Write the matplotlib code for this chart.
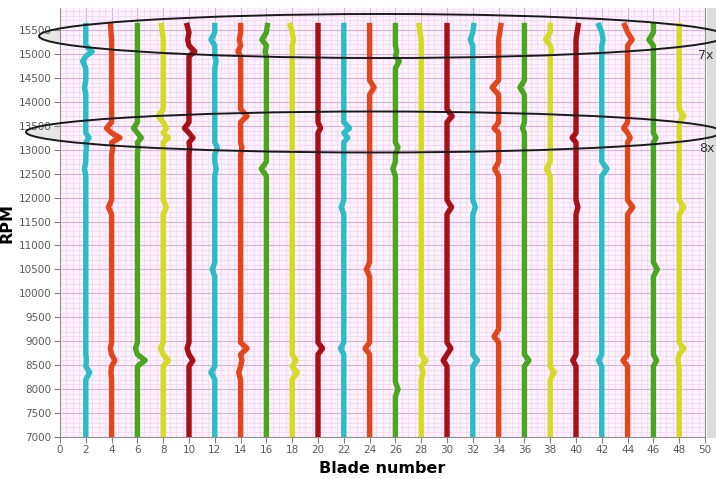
import matplotlib
matplotlib.use("Agg")
import matplotlib.pyplot as plt
from matplotlib.patches import Ellipse, Rectangle
import numpy as np

# ---------------- data ----------------
blades = [2, 4, 6, 8, 10, 12, 14, 16, 18, 20, 22, 24,
          26, 28, 30, 32, 34, 36, 38, 40, 42, 44, 46, 48]
color_cycle = ["#2bbcc6", "#e4461c", "#4aa61e", "#d6da22", "#a80f16"]

rpm_grid = [7000, 8000, 8350, 8600, 8850, 9100, 10500, 11800, 12600,
            13050, 13250, 13450, 13700, 14300, 14850, 15050, 15300, 15650]

dev_b02 = [0, 0, 0.3, 0.05, 0, 0, 0, 0, -0.1, 0.05, 0.25, 0, 0, -0.1, -0.25, 0.5, 0, 0]
dev_b04 = [0, 0, -0.05, 0.25, -0.1, 0, 0, -0.25, 0, 0.1, 0.65, -0.4, 0, 0, 0, 0, 0, -0.1]
dev_b06 = [0, 0, 0, 0.6, -0.15, 0, 0, 0, 0, 0.05, 0.3, -0.3, 0, 0, 0, 0, 0, 0]
dev_b08 = [0, 0, 0, 0.4, -0.2, 0, 0, 0.25, 0, 0, 0.4, 0.25, -0.4, 0, 0, 0, 0, -0.15]
dev_b10 = [0, 0, 0, 0.3, -0.15, 0, 0, 0, 0, 0.05, 0.3, -0.35, 0, 0, 0, 0.45, -0.1, -0.2]
dev_b12 = [0, 0, -0.3, 0, 0, 0, -0.2, 0, 0.1, 0.2, 0, 0, 0, 0, 0.1, 0, -0.3, 0]
dev_b14 = [0, 0, -0.15, 0.1, 0.5, 0, 0, 0, 0, 0.1, 0, 0, 0.5, 0, 0, -0.2, -0.1, 0]
dev_b16 = [0, 0, 0, 0, 0, 0, 0, 0, -0.4, 0, 0, 0, 0, 0, 0, -0.1, -0.35, 0.1]
dev_b18 = [0, 0, 0.4, 0.3, 0, 0, 0, 0, 0, 0, 0, 0, 0, 0, 0, 0, 0.1, -0.2]
dev_b20 = [0, 0, 0, 0, 0.35, 0, 0, 0, 0, 0, 0, 0.2, 0, 0, 0, 0, 0, 0]
dev_b22 = [0, 0, 0, 0, -0.25, 0, 0, -0.2, 0, 0, 0.3, 0.45, 0, 0, 0, 0, 0, 0]
dev_b24 = [0, 0, 0, 0, -0.35, 0, -0.25, 0, 0, 0, 0, 0, 0, 0.35, 0, 0, 0, 0]
dev_b26 = [0, 0.2, 0, 0, 0, 0, 0, 0, -0.2, 0.2, 0, 0, 0, 0, 0.3, 0.1, 0, 0]
dev_b28 = [0, 0, 0.15, 0.35, 0, 0, 0, 0, 0, 0, 0, 0, 0, 0, 0, 0, 0, -0.2]
dev_b30 = [0, 0, 0, -0.3, 0.3, 0, 0, 0.35, 0, 0, 0, 0, 0.4, 0, 0, 0, 0, 0]
dev_b32 = [0, 0, 0, 0.35, 0, 0, 0, 0.2, 0, 0, 0, 0, 0, 0, 0, 0, -0.2, 0.1]
dev_b34 = [0, 0, 0, 0, 0, -0.35, 0, 0, -0.3, 0, 0, -0.35, 0, -0.5, 0, 0, 0, 0.2]
dev_b36 = [0, 0, 0, 0.35, 0, 0, 0, 0, 0, 0, 0, -0.15, 0, -0.35, 0, 0, 0, 0]
dev_b38 = [0, 0, 0.3, 0, 0, 0, 0, 0, -0.3, 0, 0, 0, 0, 0, 0, 0.1, -0.35, 0]
dev_b40 = [0, 0, 0, -0.25, 0, 0, 0, 0.15, 0, 0, -0.3, 0, 0, 0, 0, 0, 0, 0.2]
dev_b42 = [0, 0, 0, -0.25, 0, 0, 0, 0, 0.4, 0, 0, 0, 0, 0, 0, 0, 0.1, -0.3]
dev_b44 = [0, 0, 0, -0.35, 0, 0, 0, 0.4, 0, 0, 0.2, -0.3, 0, 0, 0, 0, 0.35, -0.3]
dev_b46 = [0, 0, 0, 0.25, 0, 0, 0.3, 0, 0, 0, 0.2, 0, 0, 0, 0, 0, -0.35, 0]
dev_b48 = [0, 0, 0, -0.1, 0.35, 0, 0, 0.35, 0, 0, 0, 0, 0.35, 0, 0, 0, 0, 0]

deviations = [dev_b02, dev_b04, dev_b06, dev_b08, dev_b10, dev_b12, dev_b14, dev_b16,
              dev_b18, dev_b20, dev_b22, dev_b24, dev_b26, dev_b28, dev_b30, dev_b32,
              dev_b34, dev_b36, dev_b38, dev_b40, dev_b42, dev_b44, dev_b46, dev_b48]

x_ticks = list(range(0, 51, 2))
y_ticks = list(range(7000, 15501, 500))
mode_labels = ["7x", "8x"]


def trace_path(blade, dev, rpms, half=150.0):
    """Each read-off deviation is a local excursion from the blade's position."""
    pts = []
    n = len(rpms)
    for i in range(n):
        r, d = rpms[i], dev[i]
        if d != 0 and 0 < i < n - 1:
            lo = min(half, (r - rpms[i - 1]) / 2)
            hi = min(half, (rpms[i + 1] - r) / 2)
            pts += [(r - lo, 0.0), (r, d), (r + hi, 0.0)]
        else:
            pts.append((r, d))
    pts.sort()
    ys = np.array([p[0] for p in pts])
    xs = blade + np.array([p[1] for p in pts])
    return xs, ys


# ---------------- figure ----------------
W, H = 716, 479
fig = plt.figure(figsize=(W / 100, H / 100), dpi=100)
fig.patch.set_facecolor("white")


def fy(py):
    return 1 - py / H


bg = fig.add_axes([0, 0, 1, 1], zorder=0)
bg.set_xlim(0, W)
bg.set_ylim(H, 0)
bg.axis("off")
bg.add_patch(Ellipse((382, 36), 686, 44, facecolor="#e6e6e6", edgecolor="none"))
bg.add_patch(Ellipse((374, 132), 696, 41, facecolor="#e6e6e6", edgecolor="none"))
bg.add_patch(Rectangle((707, 8), 9, 430, facecolor="#dcdcdc", edgecolor="none"))

left, right, top, bottom = 60, 705, 8, 437
ax = fig.add_axes([left / W, fy(bottom), (right - left) / W, (bottom - top) / H], zorder=1)
ax.set_facecolor("#fdf3fd")
ax.set_xlim(0, 50)
ax.set_ylim(7000, 15960)

ax.set_xticks(x_ticks)
ax.set_yticks(y_ticks)
ax.set_xticks(np.arange(0, 50.01, 0.5), minor=True)
ax.set_yticks(np.arange(7000, 15960, 100), minor=True)
ax.grid(which="minor", color="#f6d6f6", linewidth=0.6)
ax.grid(which="major", color="#dcaedb", linewidth=0.8)
ax.set_axisbelow(True)
ax.tick_params(which="minor", length=0)
ax.tick_params(which="major", length=4, width=0.8, color="#808080",
               labelsize=7.5, labelcolor="#5a5a5a", pad=2)
for side in ["left", "bottom", "right"]:
    ax.spines[side].set_color("#909090")
ax.spines["top"].set_visible(False)

rpm = [float(r) for r in rpm_grid]
for i, (b, dev) in enumerate(zip(blades, deviations)):
    c = color_cycle[i % len(color_cycle)]
    xs, ys = trace_path(b, dev, rpm)
    ax.plot(xs, ys, color=c, linewidth=3.9, solid_joinstyle="round",
            solid_capstyle="butt", zorder=3)

ax.set_xlabel("Blade number", fontsize=11.5, fontweight="bold", labelpad=4)
ax.set_ylabel("RPM", fontsize=11.5, fontweight="bold")
ax.yaxis.set_label_coords((15 - left) / (right - left), 0.5)

ov = fig.add_axes([0, 0, 1, 1], zorder=5)
ov.set_xlim(0, W)
ov.set_ylim(H, 0)
ov.axis("off")
ov.patch.set_alpha(0)
ov.add_patch(Ellipse((382, 36), 686, 44, facecolor="none", edgecolor="#1a1a1a", linewidth=1.4))
ov.add_patch(Ellipse((374, 132), 696, 41, facecolor="none", edgecolor="#1a1a1a", linewidth=1.4))
ov.text(713, 55, mode_labels[0], fontsize=9, color="#333333", ha="right", va="center")
ov.text(715, 149, mode_labels[1], fontsize=9, color="#333333", ha="right", va="center")

fig.savefig("out.png", dpi=100)
